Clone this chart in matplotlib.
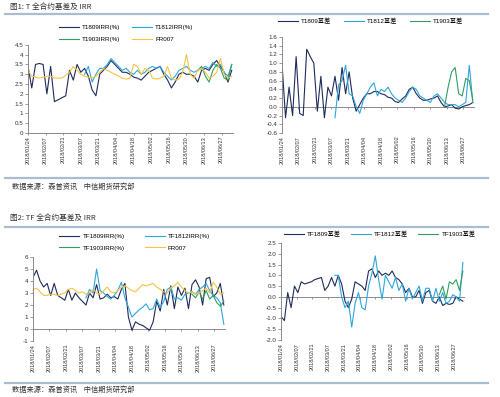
import numpy as np
import pandas as pd
import matplotlib
matplotlib.use("Agg")
import matplotlib.pyplot as plt
from matplotlib.lines import Line2D

plt.rcParams['font.family'] = ['Liberation Sans', 'Noto Sans CJK SC']

# dates (every 3 days) and x-axis ticks
dates = pd.date_range('2018-01-24', '2018-07-05', freq='3D')
tick_dates = pd.date_range('2018-01-24', periods=12, freq='14D')
days = np.array((dates - dates[0]).days)
tick_days = np.array((tick_dates - dates[0]).days)
tick_labels = [d.strftime('%Y/%m/%d') for d in tick_dates]

na = None

# 图1: T contracts IRR (%)
t1809_irr = [3.4, 2.3, 3.5, 3.55, 3.5, 2.0, 3.4, 1.6, 1.7, 1.8,
             1.9, 3.2, 2.7, 3.5, 3.1, 3.3, 2.9, 2.2, 1.9, 3.0,
             3.2, 3.4, 3.7, 3.5, 3.3, 3.1, 3.1, 3.0, 2.85, 2.8,
             2.7, 2.9, 3.1, 3.2, 3.3, 3.4, 3.0, 2.7, 2.3, 2.6,
             3.0, 3.1, 3.0, 3.0, 2.9, 2.6, 3.2, 3.3, 3.2, 3.5,
             3.7, 3.4, 3.1, 2.6, 3.2]
t1812_irr = [na] * 15 + [3.0, 3.4, 2.6, 3.0, 3.3,
             3.3, 3.5, 3.8, 3.6, 3.4, 3.2, 3.3, 3.1, 3.0, 3.2,
             3.0, 3.1, 3.3, 3.4, 3.3, 3.4, 3.1, 2.9, 2.7, 2.9,
             3.2, 3.3, 3.4, 3.2, 3.1, 3.2, 3.3, 3.4, 3.3, 3.6,
             3.4, 3.5, 3.1, 2.9, 3.5]
t1903_irr = [na] * 45 + [3.2, 3.4, 2.9, 2.6, 3.2, 3.5, 3.3, 2.8, 2.7, 3.5]
fr007_t = [3.2, 2.9, 2.85, 2.8, 2.85, 2.9, 2.9, 2.8, 2.8, 2.8,
           2.95, 3.1, 3.4, 3.2, 3.0, 2.9, 2.85, 2.8, 2.9, 3.1,
           3.3, 3.2, 3.1, 3.0, 2.9, 2.8, 2.75, 2.8, 3.5, 3.4,
           3.0, 3.3, 3.2, 2.8, 2.75, 2.8, 2.9, 3.4, 2.8, 2.7,
           2.75, 3.1, 4.0, 3.0, 2.8, 3.2, 3.3, 3.1, 2.8, 2.9,
           3.1, 3.8, 3.0, 2.8, 2.9]

# 图1: T contracts basis
t1809_basis = [1.0, -0.25, 0.45, -0.2, 1.15, -0.15, -0.2, 1.32, 1.15, 1.0,
               -0.1, 0.7, -0.25, 0.45, 0.25, 0.7, 0.15, 0.9, 0.3, 0.8,
               0.2, -0.1, 0.05, 0.2, 0.3, 0.3, 0.35, 0.35, 0.3, 0.28,
               0.22, 0.2, 0.12, 0.1, 0.18, 0.25, 0.4, 0.45, 0.3, 0.2,
               0.15, 0.15, 0.18, 0.2, 0.25, 0.1, 0.0, 0.02, 0.05, -0.03,
               -0.05, 0.0, 0.03, 0.05, 0.1]
t1812_basis = [na] * 15 + [-0.25, 0.5, 0.6, 0.95, 0.3,
               0.25, 0.0, -0.15, 0.15, 0.3, 0.45, 0.55, 0.25, 0.4, 0.35,
               0.45, 0.3, 0.2, 0.15, 0.1, 0.2, 0.35, 0.45, 0.4, 0.25,
               0.2, 0.15, 0.1, 0.25, 0.3, 0.2, 0.1, 0.05, 0.05, 0.05,
               0.0, 0.05, 0.1, 0.95, 0.1]
t1903_basis = [na] * 46 + [0.0, 0.45, 0.8, 0.9, 0.3, 0.25, 0.65, 0.6, 0.15]

# 图2: TF contracts IRR (%)
tf1809_irr = [4.3, 4.9, 4.0, 3.5, 3.8, 2.8, 3.8, 2.8, 2.6, 2.4,
              3.3, 2.4, 3.0, 2.6, 2.3, 2.0, 3.0, 2.6, 3.7, 2.5,
              2.6, 2.9, 2.6, 2.7, 2.5, 3.3, 3.8, 1.0, -0.1, 0.6,
              0.4, 0.3, 0.1, -0.1, 0.6, 2.3, 1.5, 3.3, 2.0, 3.6,
              1.7, 3.5, 2.8, 3.4, 1.7, 3.7, 4.1, 3.5, 2.0, 4.2,
              4.3, 2.7, 3.0, 3.8, 2.0]
tf1812_irr = [na] * 15 + [2.6, 3.3, 3.0, 5.0, 3.2,
              3.0, 2.7, 2.5, 2.8, 3.2, 3.9, 2.6, 1.8, 1.0, 1.3,
              1.6, 1.8, 2.1, 1.6, 1.7, 2.5, 1.8, 2.3, 3.3, 3.5,
              2.5, 2.6, 2.4, 2.9, 3.0, 3.1, 2.9, 3.3, 3.5, 3.8,
              3.2, 2.8, 2.6, 2.2, 0.4]
tf1903_irr = [na] * 45 + [2.9, 2.6, 3.1, 2.5, 3.2, 2.5, 2.8, 2.2, 1.9, 2.3]
fr007_tf = [3.3, 3.4, 3.1, 2.8, 2.8, 2.9, 2.9, 2.8, 2.9, 3.0,
            3.3, 3.4, 3.2, 3.0, 3.1, 2.9, 3.0, 3.3, 3.0, 2.9,
            3.2, 3.5, 3.1, 3.0, 3.2, 3.5, 3.6, 3.4, 3.2, 3.1,
            3.4, 3.7, 3.6, 3.7, 3.8, 3.5, 3.3, 3.1, 3.0, 3.4,
            3.6, 3.9, 3.5, 3.2, 3.0, 3.1, 2.9, 3.0, 3.2, 3.4,
            3.0, 3.9, 3.5, 2.9, 3.0]

# 图2: TF contracts basis
tf1809_basis = [-0.9, -1.1, 0.2, -0.5, 0.5, 0.2, 0.7, 0.6, 0.65, 0.7,
                0.8, 0.85, 0.9, 0.3, 0.5, 0.9, 0.5, 1.0, 0.6, -0.2,
                -0.5, -0.1, 0.7, 0.6, 0.5, 0.3, 1.2, 1.3, 0.9, 1.2,
                1.0, 1.1, 1.0, 1.2, 0.9, 0.8, 0.6, 0.2, 0.4, 0.0,
                0.0, 0.3, -0.3, 0.2, 0.3, -0.2, -0.3, 0.0, -0.4, -0.3,
                -0.35, -0.3, 0.0, -0.1, -0.2]
tf1812_basis = [na] * 16 + [1.0, 1.0, 0.0, -0.5,
                -0.2, -1.4, -0.3, 0.2, -0.5, -0.6, 0.5, 1.1, 1.9, 0.8,
                -0.1, 1.0, 0.7, 0.4, 0.9, 0.3, 0.6, -0.2, 0.4, -0.1,
                0.2, 0.5, -0.2, 0.4, 0.4, -0.2, 0.4, -0.2, 0.2, -0.3,
                -0.2, 0.1, 0.0, -0.2, 1.6]
tf1903_basis = [na] * 47 + [0.1, 0.5, -0.1, 0.7, 0.6, 0.8, 0.3, 1.2]

NAVY = '#1f2b5c'
BLUE = '#2ea6dc'
GREEN = '#2f9e62'
YELLOW = '#f5c444'
GRAY = '#8a8a8a'
BAR = '#a9bdd1'


def arr(v):
    return np.array(v, dtype=float)


def style(ax, ylim, yticks, ylabels):
    ax.set_xlim(0, 163)
    ax.set_ylim(*ylim)
    ax.set_yticks(yticks)
    ax.set_yticklabels(ylabels)
    ax.set_xticks(tick_days)
    ax.set_xticklabels(tick_labels, rotation=90, fontsize=4, color='#333333')
    ax.tick_params(axis='x', length=0, pad=2)
    ax.tick_params(axis='y', length=2, width=0.6, color=GRAY, labelsize=4.5,
                   pad=1.5, labelcolor='#333333')
    for s in ['top', 'right', 'bottom']:
        ax.spines[s].set_visible(False)
    ax.spines['left'].set_color(GRAY)
    ax.spines['left'].set_linewidth(0.7)
    loc = (0 - ylim[0]) / (ylim[1] - ylim[0])
    sec = ax.secondary_xaxis(loc)
    sec.set_xticks(tick_days)
    sec.set_xticklabels([])
    sec.tick_params(length=1.5, width=0.6, color=GRAY, direction='out')
    sec.spines['bottom'].set_color(GRAY)
    sec.spines['bottom'].set_linewidth(0.7)


def legend_rows(ax, anchor, colsp):
    # matplotlib fills legend columns first; reorder so rows read left to right
    h, l = ax.get_legend_handles_labels()
    order = [0, 2, 1, 3]
    ax.legend([h[i] for i in order], [l[i] for i in order],
              loc='lower center', bbox_to_anchor=anchor, ncol=2,
              frameon=False, fontsize=4.5, handlelength=3.2,
              columnspacing=colsp, handletextpad=0.5, labelspacing=1.0,
              borderpad=0)


def legend_row(ax, anchor, colsp):
    ax.legend(loc='lower center', bbox_to_anchor=anchor, ncol=3,
              frameon=False, fontsize=4.5, handlelength=3.2,
              columnspacing=colsp, handletextpad=0.5, borderpad=0)


fig = plt.figure(figsize=(5, 3.97), dpi=100)
lw = 0.8

# top-left: T IRR
ax1 = fig.add_axes([0.056, 0.665, 0.41, 0.222])
ax1.plot(days, arr(t1809_irr), color=NAVY, lw=lw, label='T1809IRR(%)')
ax1.plot(days, arr(t1812_irr), color=BLUE, lw=lw, label='T1812IRR(%)')
ax1.plot(days, arr(t1903_irr), color=GREEN, lw=lw, label='T1903IRR(%)')
ax1.plot(days, arr(fr007_t), color=YELLOW, lw=lw, label='FR007')
style(ax1, (0, 4.5), np.arange(0, 4.51, 0.5),
      ['0', '0.5', '1', '1.5', '2', '2.5', '3', '3.5', '4', '4.5'])
legend_rows(ax1, (0.48, 1.0), 1.8)

# top-right: T basis
ax2 = fig.add_axes([0.564, 0.665, 0.384, 0.2418])
ax2.plot(days, arr(t1809_basis), color=NAVY, lw=lw, label='T1809基差')
ax2.plot(days, arr(t1812_basis), color=BLUE, lw=lw, label='T1812基差')
ax2.plot(days, arr(t1903_basis), color=GREEN, lw=lw, label='T1903基差')
yt = np.arange(-0.6, 1.61, 0.2)
style(ax2, (-0.6, 1.6), yt, [f'{v:.1f}'.replace('-0.0', '0.0') for v in yt])
legend_row(ax2, (0.46, 1.1), 2.0)

# bottom-left: TF IRR
ax3 = fig.add_axes([0.066, 0.141, 0.384, 0.2116])
ax3.plot(days, arr(tf1809_irr), color=NAVY, lw=lw, label='TF1809IRR(%)')
ax3.plot(days, arr(tf1812_irr), color=BLUE, lw=lw, label='TF1812IRR(%)')
ax3.plot(days, arr(tf1903_irr), color=GREEN, lw=lw, label='TF1903IRR(%)')
ax3.plot(days, arr(fr007_tf), color=YELLOW, lw=lw, label='FR007')
style(ax3, (-1, 6), np.arange(-1, 7), [str(v) for v in range(-1, 7)])
legend_rows(ax3, (0.53, 1.04), 3.2)

# bottom-right: TF basis
ax4 = fig.add_axes([0.562, 0.1436, 0.366, 0.2443])
ax4.plot(days, arr(tf1809_basis), color=NAVY, lw=lw, label='TF1809基差')
ax4.plot(days, arr(tf1812_basis), color=BLUE, lw=lw, label='TF1812基差')
ax4.plot(days, arr(tf1903_basis), color=GREEN, lw=lw, label='TF1903基差')
yt = np.arange(-2.0, 2.51, 0.5)
style(ax4, (-2.0, 2.5), yt, [f'{v:.1f}'.replace('-0.0', '0.0') for v in yt])
legend_row(ax4, (0.54, 1.03), 1.6)

# titles, separator bars and source notes
cjk = ['Noto Sans CJK SC', 'Liberation Sans']
fig.text(0.02, 1 - 7 / 397, '图1: T 全合约基差及 IRR', fontsize=5.5,
         va='center', color='#333333', family=cjk)
fig.text(0.02, 1 - 218 / 397, '图2: TF 全合约基差及 IRR', fontsize=5.5,
         va='center', color='#333333', family=cjk)
fig.text(0.024, 1 - 187 / 397, '数据来源：森普资讯    中信期货研究部', fontsize=5.2,
         va='center', color='#333333', family=cjk)
fig.text(0.024, 1 - 390 / 397, '数据来源：森普资讯    中信期货研究部', fontsize=5.2,
         va='center', color='#333333', family=cjk)
for ypx in [14, 178, 227, 383]:
    yf = 1 - ypx / 397
    fig.add_artist(Line2D([0.01, 0.975], [yf, yf], color=BAR, lw=1.6,
                          transform=fig.transFigure))

fig.savefig('out.png', dpi=100)
